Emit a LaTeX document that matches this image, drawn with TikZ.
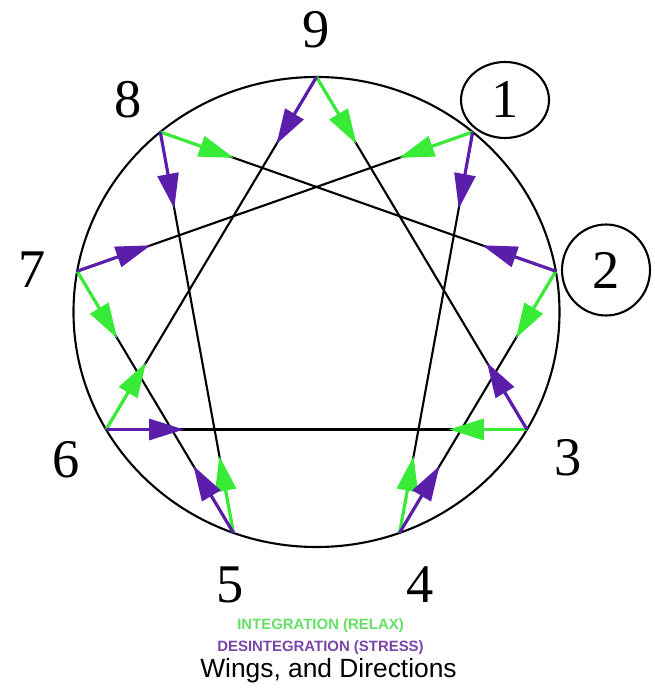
\documentclass[tikz,border=0pt]{standalone}
\usepackage{fontspec}
\newfontfamily\labelsans{Liberation Sans}
\newfontfamily\labelserif{Liberation Serif}
\usetikzlibrary{arrows.meta, calc, shapes.geometric}
\definecolor{intgreen}{RGB}{55,235,55}
\definecolor{disviolet}{RGB}{90,30,170}
\definecolor{intgreentxt}{RGB}{100,225,100}
\definecolor{disviolettxt}{RGB}{120,70,170}

\begin{document}
\begin{tikzpicture}[
    x=0.02cm, y=0.02cm,
    edge/.style={line width=1.2pt, black},
    garr/.style={-{Triangle[length=0.7cm, width=0.42cm]}, line width=1.8pt, intgreen},
    parr/.style={-{Triangle[length=0.7cm, width=0.42cm]}, line width=1.8pt, disviolet},
    num/.style={font=\labelserif\fontsize{31}{36}\selectfont, inner sep=0pt},
    ring/.style={num, draw, ellipse, line width=1.2pt, minimum width=1.76cm},
    legend/.style={font=\labelsans\bfseries\fontsize{8.5}{10}\selectfont, inner sep=1pt},
]
\useasboundingbox (-316.5,-377) rectangle (338.5,312);

\draw[edge] (0,0) ellipse [x radius=243, y radius=235];

\foreach \k/\a in {9/90, 1/50, 2/10, 3/-30, 4/-70, 5/-110, 6/-150, 7/170, 8/130}
  \coordinate (p\k) at ({243*cos(\a)},{235*sin(\a)});

% triangle and hexad
\foreach \s/\t in {9/3, 3/6, 6/9, 1/4, 4/2, 2/8, 8/5, 5/7, 7/1}
  \draw[edge] (p\s) -- (p\t);

% directions
\foreach \s/\t in {9/3, 8/2, 7/5, 6/9, 5/8, 4/1, 3/6, 2/4, 1/7}
  \draw[garr] (p\s) -- ($(p\s)!1.56cm!(p\t)$);
\foreach \s/\t in {9/6, 8/5, 7/1, 6/3, 5/7, 4/2, 3/9, 2/8, 1/4}
  \draw[parr] (p\s) -- ($(p\s)!1.56cm!(p\t)$);

\node[num] (n9) at (-0.5,282) {9};
\node[ring, minimum height=1.52cm] (n1) at (188.5,212) {1};
\node[ring, minimum height=1.82cm] (n2) at (289.5,42) {2};
\node[num] (n3) at (251.5,-146) {3};
\node[num] (n4) at (103.5,-273) {4};
\node[num] (n5) at (-86.5,-273) {5};
\node[num] (n6) at (-250.5,-148) {6};
\node[num] (n7) at (-284.5,42) {7};
\node[num] (n8) at (-188.5,212) {8};

\node[legend, text=intgreentxt] (intlbl) at (4,-314) {INTEGRATION (RELAX)};
\node[legend, text=disviolettxt] (dislbl) at (4,-336) {DESINTEGRATION (STRESS)};
\node[font=\labelsans\fontsize{15}{18}\selectfont, inner sep=1pt] (title) at (12,-359)
    {Wings, and Directions};
\end{tikzpicture}
\end{document}
